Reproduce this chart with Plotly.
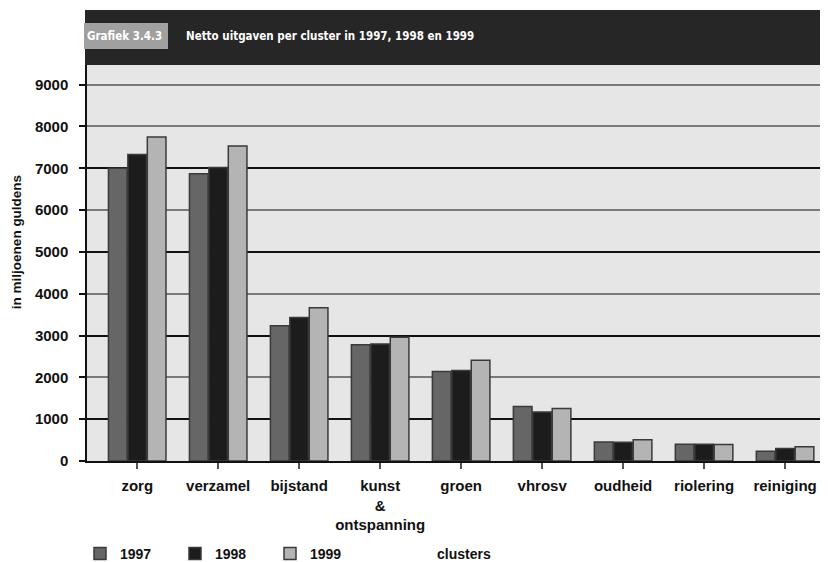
import plotly.graph_objects as go

categories = ["zorg", "verzamel", "bijstand", "kunst<br>&<br>ontspanning", "groen",
              "vhrosv", "oudheid", "riolering", "reiniging"]
years = ["1997", "1998", "1999"]
values_1997 = [7000, 6870, 3235, 2780, 2140, 1305, 453, 400, 231]
values_1998 = [7330, 7020, 3430, 2795, 2165, 1172, 450, 400, 298]
values_1999 = [7750, 7530, 3664, 2958, 2410, 1255, 511, 395, 342]
series = [values_1997, values_1998, values_1999]
colors = ["#666666", "#1c1c1c", "#b4b4b4"]

FONT = "Liberation Sans, Arial, sans-serif"
NARROW = "DejaVu Sans Condensed, Liberation Sans Narrow, sans-serif"

# page body has an 8px margin, so the figure is drawn 8px smaller
OFF = 8
W, HT = 828 - OFF, 562 - OFF

fig = go.Figure()
for name, vals, col in zip(years, series, colors):
    fig.add_trace(go.Bar(
        x=categories, y=vals, name=name,
        marker=dict(color=col, line=dict(color="#3a3a3a", width=1.5)),
    ))

YMAX = 9470
PLOT_BOTTOM = 460.7
PLOT_TOP = 65.0
PLOT_LEFT = 87.0
fig.update_layout(
    width=W, height=HT,
    margin=dict(l=PLOT_LEFT - OFF, r=0, t=PLOT_TOP - OFF, b=562 - PLOT_BOTTOM, autoexpand=False),
    paper_bgcolor="white",
    plot_bgcolor="#e6e6e6",
    barmode="group",
    bargap=0.28,
    bargroupgap=0.04,
    font=dict(family=FONT, size=14, color="#111"),
    showlegend=True,
    legend=dict(
        orientation="h",
        xref="container", yref="container",
        x=(80 - OFF) / W, y=(562 - 554) / HT,
        xanchor="left", yanchor="middle",
        entrywidth=50, entrywidthmode="pixels",
        font=dict(family=FONT, size=14, color="#111", weight="bold"),
        bgcolor="rgba(0,0,0,0)",
    ),
    xaxis=dict(
        range=[-0.62, 8.53],
        showgrid=False, automargin=False,
        showline=True, linecolor="#111", linewidth=2,
        ticks="outside", ticklen=6, tickcolor="#555", tickwidth=1.5,
        tickfont=dict(family=FONT, size=15, color="#111", weight="bold"),
        ticklabelstandoff=4,
        zeroline=False,
    ),
    yaxis=dict(
        range=[0, YMAX], automargin=False,
        tickvals=[0, 1000, 2000, 3000, 4000, 5000, 6000, 7000, 8000, 9000],
        showgrid=True, gridcolor="#7a7a7a", gridwidth=1.5,
        showline=True, linecolor="#111", linewidth=1.5,
        ticks="outside", ticklen=6, tickcolor="#111", tickwidth=1.5,
        tickfont=dict(family=FONT, size=15, color="#111", weight="bold"),
        ticklabelstandoff=8,
        zeroline=False,
    ),
    yaxis2=dict(
        range=[0, YMAX], overlaying="y", side="left", automargin=False,
        tickvals=[1000, 3000, 5000, 7000],
        showgrid=True, gridcolor="#111", gridwidth=1.5,
        showticklabels=False, ticks="", showline=False, zeroline=False,
    ),
)

# invisible helper trace so the second grid axis is drawn
fig.add_trace(go.Scatter(x=[categories[0]], y=[0], yaxis="y2", mode="markers",
                         marker=dict(opacity=0), showlegend=False, hoverinfo="skip"))

H = PLOT_BOTTOM - PLOT_TOP
PW = 828 - PLOT_LEFT
def py(pix):
    return (PLOT_BOTTOM - pix) / H
def px(pix):
    return (pix - PLOT_LEFT) / PW

fig.add_shape(type="rect", xref="paper", yref="paper",
              x0=px(85), x1=1.0, y0=py(65), y1=py(10),
              fillcolor="#262626", line=dict(width=0), layer="above")
fig.add_shape(type="rect", xref="paper", yref="paper",
              x0=px(84), x1=px(168), y0=py(49), y1=py(23),
              fillcolor="#a0a0a0", line=dict(width=0), layer="above")
fig.add_annotation(xref="paper", yref="paper", x=px(164), y=py(36),
                   xanchor="right", yanchor="middle", showarrow=False,
                   text="Grafiek 3.4.3",
                   font=dict(family=NARROW, size=11.5, color="white", weight="bold"))
fig.add_annotation(xref="paper", yref="paper", x=px(184), y=py(36),
                   xanchor="left", yanchor="middle", showarrow=False,
                   text="Netto uitgaven per cluster in 1997, 1998 en 1999",
                   font=dict(family=NARROW, size=11.5, color="white", weight="bold"))
fig.add_annotation(xref="paper", yref="paper", x=px(16), y=py(242),
                   xanchor="center", yanchor="middle", showarrow=False,
                   textangle=-90, text="in miljoenen guldens",
                   font=dict(family=FONT, size=13.5, color="#111", weight="bold"))
fig.add_annotation(xref="paper", yref="paper", x=px(464), y=py(554),
                   xanchor="center", yanchor="middle", showarrow=False,
                   text="clusters", borderpad=0,
                   font=dict(family=FONT, size=14, color="#111", weight="bold"))

fig.write_html("out.html")
